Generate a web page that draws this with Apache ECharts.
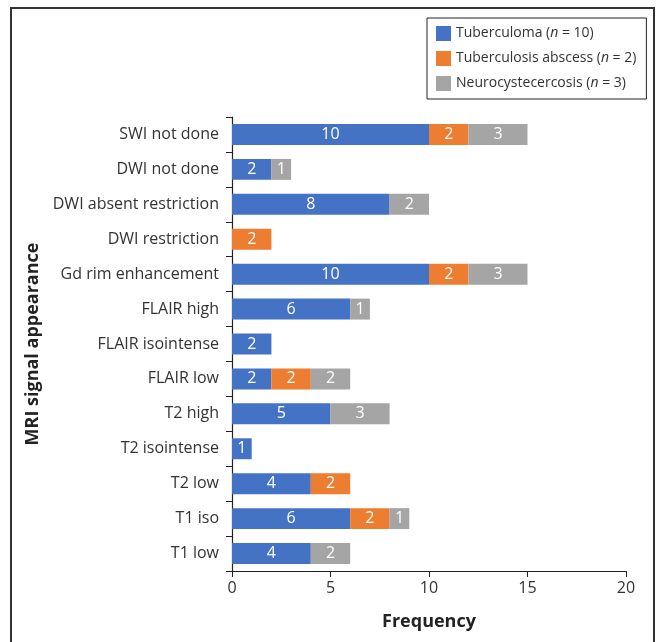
<!DOCTYPE html>
<html>
<head>
<meta charset="utf-8">
<script src="https://cdn.jsdelivr.net/npm/echarts@6/dist/echarts.min.js"></script>
<style>
  html, body { margin: 0; padding: 0; background: #fff; }
  #chart { width: 662px; height: 642px; }
</style>
</head>
<body>
<div id="chart"></div>
<script>
// MRI findings, listed bottom to top on the category axis
const categories = [
  'T1 low', 'T1 iso', 'T2 low', 'T2 isointense', 'T2 high',
  'FLAIR low', 'FLAIR isointense', 'FLAIR high', 'Gd rim enhancement',
  'DWI restriction', 'DWI absent restriction', 'DWI not done', 'SWI not done'
];
// counts per diagnosis (null = none)
const tuberculoma = [4, 6, 4, 1, 5, 2, 2, 6, 10, null, 8, 2, 10];
const tbAbscess   = [null, 2, 2, null, null, 2, null, null, 2, 2, null, null, 2];
const ncc         = [2, 1, null, null, 3, 2, null, 1, 3, null, 2, 1, 3];

const seriesNames = ['Tuberculoma', 'Tuberculosis abscess', 'Neurocystecercosis'];
const seriesN = [10, 2, 3];
const colors = ['#4472C4', '#ED7D31', '#A5A5A5'];
const xTicks = { min: 0, max: 20, interval: 5 };

const font = '"Open Sans", "Noto Sans", sans-serif';
const chart = echarts.init(document.getElementById('chart'), null, { renderer: 'canvas' });

const barLabel = {
  show: true,
  position: 'inside',
  color: '#fff',
  fontSize: 16,
  fontFamily: font
};

const seriesData = [tuberculoma, tbAbscess, ncc];

chart.setOption({
  animation: false,
  color: colors,
  textStyle: { fontFamily: font },
  graphic: [{
    type: 'rect',
    shape: { x: 11, y: 8, width: 643, height: 660 },
    style: { fill: 'none', stroke: '#333', lineWidth: 2 },
    silent: true,
    z: -1
  }],
  legend: {
    orient: 'vertical',
    left: 427,
    top: 18,
    padding: [8, 10, 8, 9],
    itemWidth: 15,
    itemHeight: 15,
    itemGap: 10,
    borderColor: '#222',
    borderWidth: 1,
    icon: 'rect',
    data: seriesNames,
    formatter: function (name) {
      const i = seriesNames.indexOf(name);
      return name + ' ({i|n} = ' + seriesN[i] + ')';
    },
    textStyle: {
      fontSize: 14,
      color: '#333',
      fontFamily: font,
      rich: {
        i: { fontStyle: 'italic', fontSize: 14, color: '#333', fontFamily: font }
      }
    }
  },
  grid: { left: 232, right: 36, top: 117, bottom: 71, containLabel: false },
  xAxis: {
    type: 'value',
    min: xTicks.min,
    max: xTicks.max,
    interval: xTicks.interval,
    name: 'Frequency',
    nameLocation: 'middle',
    nameGap: 42,
    nameTextStyle: { fontSize: 18, fontWeight: 'bold', color: '#222', fontFamily: font },
    axisLine: { show: true, lineStyle: { color: '#222', width: 1.2 } },
    axisTick: { show: true, length: 6, lineStyle: { color: '#222' } },
    axisLabel: { fontSize: 16, color: '#333', margin: 9, fontFamily: font },
    splitLine: { show: false }
  },
  yAxis: {
    type: 'category',
    data: categories,
    name: 'MRI signal appearance',
    nameLocation: 'middle',
    nameRotate: 90,
    nameGap: 185,
    nameTextStyle: { fontSize: 18, fontWeight: 'bold', color: '#222', fontFamily: font },
    axisLine: { show: true, lineStyle: { color: '#222', width: 1.2 } },
    axisTick: { show: true, length: 6, alignWithLabel: false, lineStyle: { color: '#222' } },
    axisLabel: { fontSize: 16, color: '#333', margin: 13, fontFamily: font }
  },
  series: seriesNames.map((name, i) => ({
    name: name,
    type: 'bar',
    stack: 'total',
    barCategoryGap: '40%',
    data: seriesData[i],
    itemStyle: { color: colors[i] },
    label: barLabel
  }))
});
</script>
</body>
</html>
